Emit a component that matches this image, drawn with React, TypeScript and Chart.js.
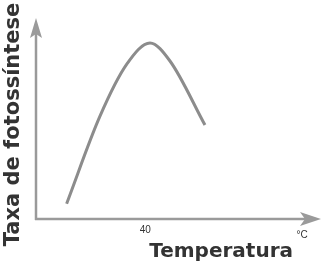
import React, { useEffect, useRef } from "react";
import { Chart, registerables } from "chart.js";

Chart.register(...registerables);

// Data (arbitrary units)
const temperature = [11.2, 23.4, 33.2, 41.7, 49.0, 61.8];
const photosynthesisRate = [8.1, 54.4, 81.9, 93.1, 83.6, 49.7];
const xTickValues = [40];
const xTitle = "Temperatura";
const yTitle = "Taxa de fotossíntese";
const unitLabel = "°C";

const axisColor = "#9a9a9a";

const arrowAxes = {
  id: "arrowAxes",
  beforeDatasetsDraw(chart: any) {
    const { ctx, chartArea } = chart;
    const { left, bottom, top, right } = chartArea;
    ctx.save();
    ctx.strokeStyle = axisColor;
    ctx.fillStyle = axisColor;
    ctx.lineWidth = 2.5;
    ctx.lineCap = "butt";
    // y axis line + arrow
    const yTip = top - 12;
    ctx.beginPath();
    ctx.moveTo(left, bottom + 1);
    ctx.lineTo(left, yTip + 14);
    ctx.stroke();
    ctx.beginPath();
    ctx.moveTo(left, yTip);
    ctx.lineTo(left - 6, yTip + 20);
    ctx.lineTo(left, yTip + 16);
    ctx.lineTo(left + 6, yTip + 20);
    ctx.closePath();
    ctx.fill();
    // x axis line + arrow
    const xTip = right + 28;
    ctx.beginPath();
    ctx.moveTo(left - 1, bottom);
    ctx.lineTo(xTip - 14, bottom);
    ctx.stroke();
    ctx.beginPath();
    ctx.moveTo(xTip, bottom);
    ctx.lineTo(xTip - 21, bottom - 7);
    ctx.lineTo(xTip - 16, bottom);
    ctx.lineTo(xTip - 21, bottom + 7);
    ctx.closePath();
    ctx.fill();
    // unit label
    ctx.fillStyle = "#333333";
    ctx.font = "10px 'Liberation Sans'";
    ctx.textAlign = "center";
    ctx.textBaseline = "middle";
    ctx.fillText(unitLabel, right + 9, bottom + 16);
    ctx.restore();
  },
};

export default function App() {
  const canvasRef = useRef<HTMLCanvasElement | null>(null);

  useEffect(() => {
    if (!canvasRef.current) return;
    const chart = new Chart(canvasRef.current, {
      type: "line",
      data: {
        datasets: [
          {
            data: temperature.map((t, i) => ({ x: t, y: photosynthesisRate[i] })),
            borderColor: "#8c8c8c",
            borderWidth: 3,
            pointRadius: 0,
            fill: false,
            cubicInterpolationMode: "monotone",
          },
        ],
      },
      options: {
        animation: false,
        responsive: true,
        maintainAspectRatio: false,
        layout: { padding: { top: 30, right: 29, bottom: 3, left: 0 } },
        plugins: {
          legend: { display: false },
          tooltip: { enabled: false },
        },
        scales: {
          x: {
            type: "linear",
            min: 0,
            max: 94,
            grid: { display: false, drawTicks: false },
            border: { display: false },
            afterBuildTicks: (axis: any) => {
              axis.ticks = xTickValues.map((v) => ({ value: v }));
            },
            ticks: {
              padding: 5,
              color: "#333333",
              font: { family: "'Liberation Sans'", size: 10 },
              maxRotation: 0,
            },
            title: {
              display: true,
              text: xTitle,
              align: "end",
              color: "#333333",
              font: { family: "'DejaVu Sans'", weight: "bold", size: 20, lineHeight: 1.1 },
              padding: { top: 0, bottom: 3 },
            },
          },
          y: {
            type: "linear",
            min: 0,
            max: 100,
            grid: { display: false, drawTicks: false },
            border: { display: false },
            ticks: { display: false },
            title: {
              display: true,
              text: yTitle,
              color: "#333333",
              font: { family: "'DejaVu Sans'", weight: "bold", size: 21, lineHeight: 1.2 },
              padding: { top: 1.4, bottom: 9.4 },
            },
          },
        },
      },
      plugins: [arrowAxes],
    } as any);
    return () => chart.destroy();
  }, []);

  return (
    <div
      style={{
        position: "absolute",
        left: 0,
        top: 0,
        width: 322,
        height: 269,
        background: "#ffffff",
      }}
    >
      <canvas ref={canvasRef} />
    </div>
  );
}
